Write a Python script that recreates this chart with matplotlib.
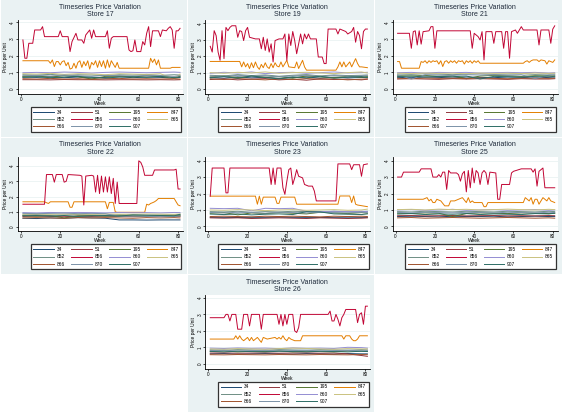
#Timeseries price variation per store (Stata style panels)

import numpy as np
import matplotlib
matplotlib.use("Agg")
import matplotlib.pyplot as plt
from matplotlib.patches import Rectangle

plt.rcParams['font.family'] = ['Liberation Sans', 'DejaVu Sans']

#Items and colours (Stata s2color)
items = ["34", "51", "195", "847", "852", "856", "860", "865", "866", "870", "907"]
colores = {"34": "#1a476f", "51": "#90353b", "195": "#55752f", "847": "#e37e00",
           "852": "#6e8e84", "856": "#c10534", "860": "#938dd2", "865": "#cac27e",
           "866": "#a0522d", "870": "#7b92a8", "907": "#2d6d66"}

#Semanas comunes para los productos de precio bajo
semanas_bajas = [1, 8, 15, 22, 29, 36, 43, 50, 57, 64, 71, 78, 81]

#Store 17
st17_856 = [(1,2.95),(2,1.85),(3,1.85),(4,2.75),(6,2.75),(7,3.55),(10,3.55),(11,3.75),(12,3.15),(19,3.15),(20,3.5),(21,3.15),(24,3.15),(25,2.25),(26,2.85),(28,3.35),(29,2.95),(31,2.95),(32,2.75),(33,3.25),(35,3.55),(36,3.05),(37,3.55),(38,3.15),(43,3.15),(44,3.5),(45,2.45),(46,3.05),(47,3.15),(54,3.15),(55,2.35),(56,2.25),(57,2.3),(58,2.95),(59,2.25),(61,2.25),(62,2.85),(63,2.65),(64,3.35),(65,3.75),(66,2.55),(67,3.5),(70,3.5),(71,3.15),(72,3.55),(74,3.5),(75,3.65),(76,3.75),(77,3.55),(78,2.45),(79,3.5),(80,3.5),(81,3.65)]
st17_847 = [(1,1.7),(14,1.7),(15,1.55),(16,1.75),(17,1.35),(18,1.65),(19,1.65),(20,1.45),(21,1.65),(22,1.7),(23,1.4),(24,1.6),(25,1.2),(26,1.25),(27,1.55),(28,1.25),(29,1.6),(30,1.7),(31,1.3),(32,1.65),(33,1.4),(34,1.7),(35,1.2),(36,1.6),(37,1.45),(38,1.7),(39,1.3),(40,1.7),(41,1.35),(42,1.7),(43,1.25),(44,1.75),(45,1.3),(46,1.7),(47,1.5),(48,1.3),(49,1.6),(50,1.25),(65,1.25),(66,1.85),(67,1.6),(68,1.8),(69,1.45),(70,1.75),(71,1.25),(76,1.25),(77,1.3),(81,1.3)]
st17_bajos = {
    "34": [0.72,0.70,0.74,0.68,0.72,0.66,0.70,0.74,0.68,0.72,0.70,0.66,0.70],
    "51": [0.56,0.56,0.55,0.57,0.56,0.56,0.55,0.56,0.56,0.55,0.56,0.55,0.56],
    "195": [0.76,0.78,0.72,0.80,0.74,0.60,0.76,0.78,0.72,0.80,0.74,0.70,0.76],
    "852": [0.86,0.84,0.88,0.82,0.86,0.84,0.80,0.86,0.84,0.88,0.82,0.86,0.84],
    "860": [0.98,1.00,0.98,1.02,1.00,0.96,1.00,1.02,1.00,0.98,1.00,1.02,1.00],
    "865": [0.92,0.90,0.94,0.88,0.92,0.90,0.86,0.92,0.90,0.88,0.92,0.60,0.90],
    "866": [0.62,0.60,0.64,0.60,0.62,0.58,0.62,0.64,0.60,0.62,0.60,0.62,0.60],
    "870": [0.80,0.82,0.78,0.84,0.80,0.76,0.82,0.80,0.78,0.82,0.80,0.76,0.80],
    "907": [0.70,0.74,0.68,0.72,0.76,0.70,0.66,0.72,0.74,0.70,0.76,0.68,0.72]}

#Store 19
st19_856 = [(1,2.6),(2,2.25),(3,3.55),(4,3.25),(5,2.25),(6,1.75),(7,3.55),(8,1.85),(9,3.75),(10,3.55),(11,3.75),(12,3.85),(14,3.85),(15,3.15),(16,3.55),(17,3.5),(18,2.95),(19,3.55),(20,3.75),(21,3.15),(24,3.05),(26,3.05),(27,2.45),(28,3.15),(29,2.35),(30,3.05),(31,2.25),(32,2.75),(33,1.65),(34,2.95),(36,3.05),(38,3.05),(39,3.35),(40,1.75),(41,3.35),(42,2.65),(43,3.5),(44,2.95),(45,2.15),(46,2.75),(47,3.35),(48,2.75),(49,3.35),(50,3.05),(51,3.35),(52,3.05),(55,3.05),(56,1.95),(58,1.95),(59,1.55),(60,1.55),(61,3.65),(65,3.65),(66,3.35),(67,3.65),(70,3.5),(71,3.35),(73,3.5),(74,3.75),(75,2.85),(76,3.5),(77,3.25),(78,2.45),(79,3.5),(80,3.65),(81,3.65)]
st19_847 = [(1,1.68),(16,1.68),(17,1.35),(18,1.65),(19,1.35),(20,1.55),(21,1.25),(22,1.6),(23,1.3),(24,1.65),(25,1.35),(26,1.2),(27,1.5),(28,1.3),(29,1.6),(30,1.35),(31,1.25),(32,1.55),(33,1.3),(34,1.6),(35,1.4),(36,1.35),(37,1.65),(38,1.35),(40,1.75),(41,1.35),(44,1.3),(45,1.65),(46,1.25),(48,1.75),(49,1.35),(50,1.15),(65,1.15),(66,1.35),(67,1.65),(68,1.35),(69,1.65),(70,1.35),(72,1.65),(73,1.35),(75,1.85),(76,1.55),(77,1.35),(78,1.35),(81,1.3)]
st19_bajos = {
    "34": [0.70,0.66,0.74,0.68,0.72,0.64,0.70,0.74,0.66,0.72,0.68,0.70,0.72],
    "51": [0.58,0.62,0.56,0.60,0.64,0.56,0.60,0.54,0.62,0.58,0.60,0.56,0.60],
    "195": [0.74,0.80,0.70,0.78,0.72,0.76,0.66,0.80,0.74,0.70,0.78,0.72,0.76],
    "852": [0.84,0.80,0.88,0.82,0.86,0.78,0.84,0.88,0.80,0.86,0.82,0.84,0.86],
    "860": [0.96,1.02,0.98,1.04,0.94,1.00,1.02,0.96,1.00,1.04,0.98,1.00,1.02],
    "865": [1.00,0.96,1.02,0.98,1.04,0.96,1.00,1.02,0.98,0.94,1.00,1.04,0.98],
    "866": [0.62,0.58,0.64,0.60,0.56,0.62,0.58,0.64,0.60,0.62,0.56,0.60,0.62],
    "870": [0.80,0.76,0.84,0.78,0.82,0.74,0.80,0.84,0.76,0.82,0.78,0.80,0.82],
    "907": [0.68,0.76,0.66,0.80,0.70,0.62,0.74,0.68,0.78,0.66,0.72,0.76,0.70]}

#Store 21
st21_856 = [(1,3.35),(7,3.35),(8,2.45),(9,3.45),(10,3.5),(11,2.65),(12,3.5),(13,2.7),(14,3.45),(17,3.5),(18,3.75),(19,3.75),(20,2.45),(21,3.5),(38,3.5),(39,2.45),(40,3.35),(42,3.15),(43,2.95),(44,3.45),(45,1.75),(46,3.45),(49,3.45),(50,2.75),(51,3.45),(54,3.45),(55,2.45),(56,3.45),(57,3.45),(58,1.85),(59,3.45),(61,3.55),(62,3.35),(64,3.75),(65,3.55),(72,3.55),(73,2.65),(74,3.55),(78,3.55),(79,2.75),(80,3.6),(81,3.8)]
st21_847 = [(1,1.65),(2,1.65),(3,1.25),(12,1.25),(13,1.65),(14,1.6),(15,1.7),(16,1.55),(17,1.7),(18,1.6),(19,1.7),(20,1.65),(21,1.7),(22,1.5),(23,1.7),(24,1.35),(25,1.65),(26,1.7),(27,1.55),(28,1.7),(29,1.6),(30,1.7),(31,1.55),(32,1.7),(33,1.65),(34,1.7),(35,1.5),(36,1.7),(37,1.6),(38,1.7),(39,1.55),(40,1.7),(41,1.6),(42,1.7),(43,1.55),(65,1.55),(66,1.65),(67,1.7),(68,1.6),(69,1.7),(70,1.75),(72,1.75),(73,1.65),(74,1.75),(76,1.7),(77,1.5),(78,1.7),(79,1.65),(80,1.6),(81,1.75)]
st21_bajos = {
    "34": [0.70,0.68,0.72,0.70,0.66,0.72,0.70,0.68,0.72,0.70,0.66,0.70,0.72],
    "51": [0.60,0.62,0.60,0.58,0.62,0.60,0.62,0.60,0.58,0.62,0.60,0.60,0.62],
    "195": [0.80,0.78,0.82,0.76,0.80,0.62,0.78,0.82,0.80,0.76,0.80,0.78,0.80],
    "852": [0.90,0.88,0.92,0.90,0.86,0.90,0.92,0.88,0.90,0.92,0.88,0.90,0.90],
    "860": [0.98,1.00,0.96,1.00,0.98,1.00,0.96,0.98,1.00,0.98,1.00,0.96,0.98],
    "865": [0.95,0.93,0.96,0.94,0.95,0.92,0.96,0.94,0.95,0.93,0.96,0.94,0.95],
    "866": [0.65,0.62,0.66,0.64,0.65,0.63,0.66,0.64,0.62,0.65,0.66,0.64,0.65],
    "870": [0.85,0.60,0.86,0.84,0.82,0.86,0.84,0.85,0.83,0.86,0.62,0.84,0.85],
    "907": [0.75,0.78,0.72,0.76,0.74,0.78,0.60,0.76,0.74,0.72,0.76,0.78,0.74]}

#Store 22
st22_856 = [(1,1.5),(12,1.5),(13,3.45),(16,3.45),(17,2.95),(18,3.45),(21,3.45),(22,2.95),(23,3.0),(24,3.45),(30,3.4),(31,3.35),(32,1.45),(33,3.35),(36,3.4),(37,3.35),(38,2.3),(39,3.4),(40,2.2),(41,3.35),(42,2.3),(43,3.3),(44,2.3),(45,3.3),(46,2.2),(47,3.2),(48,1.55),(49,2.95),(50,1.55),(59,1.55),(60,4.35),(61,4.25),(62,3.95),(63,3.4),(67,3.4),(68,3.75),(78,3.75),(79,3.8),(80,2.5),(81,2.5)]
st22_847 = [(1,1.66),(12,1.66),(13,1.6),(14,1.55),(15,1.66),(24,1.66),(25,1.3),(26,1.3),(27,1.66),(43,1.66),(44,1.2),(45,1.62),(47,1.62),(48,1.0),(49,0.97),(63,0.97),(64,1.5),(65,1.45),(66,1.55),(67,1.6),(68,1.66),(69,1.75),(70,1.88),(78,1.88),(79,1.66),(80,1.45),(81,1.4)]
st22_bajos = {
    "34": [0.58,0.56,0.60,0.58,0.62,0.60,0.58,0.47,0.47,0.46,0.47,0.47,0.47],
    "51": [0.70,0.72,0.70,0.68,0.72,0.70,0.72,0.70,0.68,0.70,0.72,0.70,0.70],
    "195": [0.75,0.72,0.76,0.60,0.74,0.76,0.72,0.75,0.74,0.72,0.76,0.74,0.76],
    "852": [0.80,0.82,0.78,0.80,0.82,0.80,0.78,0.82,0.80,0.78,0.80,0.82,0.80],
    "860": [0.95,0.93,0.96,0.94,0.96,0.95,0.93,0.96,0.94,0.95,0.93,0.96,0.95],
    "865": [0.85,0.86,0.84,0.86,0.85,0.84,0.86,0.85,0.84,0.86,0.85,0.84,0.86],
    "866": [0.60,0.62,0.60,0.58,0.62,0.60,0.62,0.60,0.58,0.62,0.60,0.62,0.60],
    "870": [0.90,0.88,0.90,0.92,0.88,0.90,0.88,0.70,0.72,0.70,0.68,0.70,0.72],
    "907": [0.74,0.76,0.72,0.76,0.70,0.74,0.76,0.72,0.80,0.78,0.76,0.74,0.84]}

#Store 23
st23_856 = [(1,1.84),(2,3.55),(8,3.55),(9,2.04),(10,2.04),(11,3.55),(31,3.55),(32,2.55),(33,3.55),(34,2.55),(35,3.55),(37,3.55),(38,2.35),(39,1.95),(40,2.75),(41,3.45),(42,3.55),(43,2.55),(44,2.95),(45,3.45),(46,3.05),(48,2.95),(49,2.55),(51,2.45),(53,2.45),(54,2.15),(55,1.55),(65,1.55),(66,3.8),(72,3.8),(73,3.45),(74,3.75),(77,3.75),(78,3.05),(79,3.75),(81,3.8)]
st23_847 = [(1,1.84),(24,1.84),(25,1.35),(26,1.84),(27,1.35),(28,1.78),(34,1.78),(35,1.4),(36,1.4),(37,1.78),(44,1.78),(45,1.35),(66,1.35),(67,1.85),(72,1.85),(73,1.45),(74,1.85),(75,1.35),(76,1.3),(81,1.2)]
st23_bajos = {
    "34": [0.55,0.55,0.54,0.55,0.55,0.56,0.55,0.55,0.54,0.55,0.56,0.55,0.55],
    "51": [0.52,0.50,0.52,0.48,0.50,0.52,0.50,0.48,0.52,0.50,0.48,0.50,0.52],
    "195": [0.80,0.84,0.70,0.82,0.78,0.84,0.80,0.76,0.86,0.82,0.78,0.84,0.80],
    "852": [0.90,0.88,0.92,0.86,0.90,0.88,0.92,0.90,0.86,0.92,0.88,0.90,0.92],
    "860": [1.10,1.08,1.10,0.95,1.10,1.08,1.10,0.92,0.90,0.92,0.90,0.92,0.90],
    "865": [1.00,0.98,1.02,1.00,0.96,1.00,1.02,0.98,1.00,1.02,0.98,1.00,1.05],
    "866": [0.60,0.62,0.60,0.58,0.62,0.60,0.62,0.60,0.58,0.62,0.60,0.62,0.60],
    "870": [0.85,0.82,0.86,0.84,0.80,0.86,0.84,0.82,0.86,0.84,0.82,0.86,0.84],
    "907": [0.75,0.72,0.76,0.70,0.74,0.76,0.72,0.90,0.88,0.76,0.74,0.72,0.76]}

#Store 25
st25_856 = [(1,3.0),(3,3.0),(4,3.3),(12,3.3),(13,3.5),(18,3.5),(19,3.0),(21,3.0),(22,3.15),(23,3.0),(24,3.3),(25,3.3),(26,2.25),(27,3.4),(28,3.25),(31,3.25),(32,3.15),(33,2.75),(34,3.2),(35,3.35),(36,2.1),(37,3.4),(38,2.35),(39,3.55),(40,2.65),(41,3.4),(42,3.25),(43,2.55),(44,3.25),(45,3.4),(46,3.25),(47,2.55),(48,3.3),(51,3.25),(52,1.65),(53,1.65),(54,2.55),(58,2.55),(59,3.25),(60,3.35),(64,3.5),(69,3.5),(70,3.3),(71,3.5),(72,2.45),(73,3.35),(75,3.55),(76,2.35),(81,2.35)]
st25_847 = [(1,1.65),(14,1.65),(15,1.7),(16,1.75),(17,1.55),(18,1.65),(19,1.45),(20,1.45),(21,1.65),(23,1.55),(25,1.25),(27,1.25),(28,1.55),(30,1.55),(34,1.75),(36,1.45),(37,1.75),(38,1.45),(39,1.55),(40,1.45),(44,1.45),(45,1.2),(46,1.2),(47,1.45),(65,1.45),(66,1.75),(67,1.65),(68,1.55),(69,1.75),(70,1.35),(71,1.65),(72,1.65),(73,1.35),(74,1.55),(75,1.75),(76,1.65),(77,1.55),(78,1.75),(79,1.55),(81,1.45)]
st25_bajos = {
    "34": [0.60,0.62,0.60,0.58,0.62,0.60,0.60,0.62,0.58,0.60,0.62,0.60,0.60],
    "51": [0.65,0.66,0.64,0.65,0.66,0.64,0.65,0.66,0.64,0.65,0.64,0.66,0.65],
    "195": [0.80,0.78,0.82,0.80,0.60,0.78,0.82,0.80,0.78,0.82,0.80,0.78,0.80],
    "852": [0.90,0.88,0.92,0.90,0.88,0.92,0.90,0.88,0.92,0.90,0.88,0.92,0.90],
    "860": [1.00,1.02,0.98,1.00,1.04,0.98,1.00,1.02,0.98,1.00,1.02,0.98,1.00],
    "865": [1.02,1.04,1.00,1.05,1.02,1.04,1.00,1.02,1.05,1.02,1.00,1.04,1.02],
    "866": [0.52,0.54,0.50,0.52,0.54,0.52,0.50,0.52,0.54,0.52,0.50,0.52,0.50],
    "870": [0.85,0.82,0.86,0.84,0.82,0.86,0.84,0.82,0.86,0.84,0.82,0.86,0.84],
    "907": [0.75,0.78,0.72,0.76,0.74,0.78,0.72,0.76,0.74,0.72,0.78,0.76,0.80]}

#Store 26
st26_856 = [(1,2.8),(8,2.8),(9,3.0),(10,3.0),(11,2.6),(12,3.0),(14,3.0),(15,2.1),(17,2.1),(18,3.0),(20,3.0),(21,2.3),(22,3.0),(26,3.0),(27,2.1),(28,3.0),(35,3.0),(36,2.4),(37,3.0),(38,2.3),(39,3.0),(40,2.4),(41,3.0),(43,3.0),(44,2.0),(45,1.9),(46,2.2),(47,3.0),(61,3.0),(62,3.2),(63,2.6),(64,2.6),(65,3.0),(66,2.7),(67,2.3),(68,2.8),(69,3.0),(70,3.3),(75,3.3),(76,2.5),(77,3.0),(78,3.1),(79,2.4),(80,3.5),(81,3.5)]
st26_847 = [(1,1.5),(13,1.5),(14,1.7),(15,1.5),(16,1.7),(17,1.5),(18,1.4),(20,1.6),(21,1.4),(22,1.6),(23,1.4),(25,1.6),(27,1.3),(28,1.6),(30,1.5),(34,1.6),(35,1.5),(36,1.6),(37,1.5),(38,1.7),(39,1.5),(40,1.4),(41,1.6),(42,1.5),(44,1.4),(47,1.4),(48,1.7),(68,1.7),(69,1.5),(70,1.7),(72,1.7),(73,1.5),(74,1.4),(75,1.4),(76,1.5),(77,1.7),(81,1.7)]
st26_bajos = {
    "34": [0.60,0.62,0.58,0.60,0.62,0.60,0.58,0.62,0.60,0.58,0.62,0.60,0.60],
    "51": [0.65,0.66,0.64,0.65,0.66,0.64,0.65,0.66,0.64,0.65,0.60,0.50,0.45],
    "195": [0.75,0.78,0.72,0.76,0.74,0.78,0.72,0.76,0.74,0.72,0.78,0.76,0.75],
    "852": [0.85,0.82,0.86,0.84,0.82,0.86,0.84,0.82,0.86,0.84,0.82,0.86,0.84],
    "860": [0.95,0.93,0.96,0.94,0.95,0.92,0.96,0.94,0.95,0.93,1.00,0.98,0.95],
    "865": [0.90,0.88,0.92,0.90,0.88,0.92,0.95,0.93,0.90,0.88,0.92,0.90,0.90],
    "866": [0.55,0.54,0.56,0.55,0.54,0.56,0.55,0.54,0.56,0.55,0.54,0.56,0.55],
    "870": [0.80,0.82,0.78,0.80,0.82,0.78,0.80,0.82,0.78,0.80,0.82,0.78,0.80],
    "907": [0.75,0.72,0.76,0.74,0.72,0.76,0.74,0.72,0.76,0.74,0.72,0.76,0.74]}

tiendas = [17, 19, 21, 22, 23, 25, 26]
posiciones = [(0, 0), (0, 1), (0, 2), (1, 0), (1, 1), (1, 2), (2, 1)]
datos856 = [st17_856, st19_856, st21_856, st22_856, st23_856, st25_856, st26_856]
datos847 = [st17_847, st19_847, st21_847, st22_847, st23_847, st25_847, st26_847]
datosBajos = [st17_bajos, st19_bajos, st21_bajos, st22_bajos, st23_bajos, st25_bajos, st26_bajos]
limitesY = [(-0.3, 4.15), (-0.3, 4.2), (-0.3, 4.15), (-0.28, 4.58), (-0.3, 4.2), (-0.3, 4.2), (-0.3, 4.2)]

W, H = 562, 412
PW, PH = W / 3, H / 3
fondo = "#eaf2f3"

def fx(x):
    return x / W

def fy(y):
    return 1 - y / H

fig = plt.figure(figsize=(W / 100, H / 100), dpi=100)
fig.patch.set_facecolor("white")

orden = ["34", "852", "866", "51", "856", "870", "195", "860", "907", "847", "865"]

for k in range(len(tiendas)):
    r, c = posiciones[k]
    ox, oy = c * PW, r * PH
    fig.add_artist(Rectangle((fx(ox + 0.5), fy(oy + PH - 0.5)), (PW - 1) / W, (PH - 1) / H,
                             transform=fig.transFigure, facecolor=fondo, edgecolor="none", zorder=-5))
    ax = fig.add_axes([fx(ox + 18), fy(oy + 94), 165 / W, 74 / H])
    ax.set_facecolor("white")
    lineas = {}
    for it in items:
        if it == "856":
            sem, pre = zip(*datos856[k])
        elif it == "847":
            sem, pre = zip(*datos847[k])
        else:
            sem, pre = semanas_bajas, datosBajos[k][it]
        lineas[it], = ax.plot(sem, pre, color=colores[it], lw=0.7, label=it)
    ax.set_xlim(-1.5, 82.5)
    ax.set_ylim(*limitesY[k])
    ax.set_xticks([0, 20, 40, 60, 80])
    ax.set_yticks([0, 1, 2, 3, 4])
    ax.yaxis.grid(True, color=fondo, lw=0.6)
    ax.set_axisbelow(True)
    for s in ["top", "right"]:
        ax.spines[s].set_visible(False)
    for s in ["left", "bottom"]:
        ax.spines[s].set_linewidth(0.6)
    ax.tick_params(labelsize=3.3, length=1.5, width=0.5, pad=0.6)
    for lab in ax.get_yticklabels():
        lab.set_rotation(90)
        lab.set_va("center")
    fig.text(fx(ox + 100), fy(oy + 7.5), "Timeseries Price Variation", ha="center", va="center",
             fontsize=5, color="#1e2a3a")
    fig.text(fx(ox + 100), fy(oy + 15), "Store " + str(tiendas[k]), ha="center", va="center",
             fontsize=5, color="#1e2a3a")
    fig.text(fx(ox + 6), fy(oy + 57), "Price per Unit", rotation=90, ha="center", va="center", fontsize=3.5)
    fig.text(fx(ox + 100), fy(oy + 103.5), "Week", ha="center", va="center", fontsize=3.5)
    leg = ax.legend([lineas[i] for i in orden], orden, loc="center",
                    bbox_to_anchor=(fx(ox + 106), fy(oy + 119.5)), bbox_transform=fig.transFigure,
                    ncol=4, fontsize=3.5, handlelength=4.2, handletextpad=0.6, columnspacing=1.3,
                    labelspacing=0.45, borderpad=0.55, fancybox=False, framealpha=1)
    leg.get_frame().set_edgecolor("#333333")
    leg.get_frame().set_linewidth(0.9)

plt.savefig("out.png", dpi=100)
